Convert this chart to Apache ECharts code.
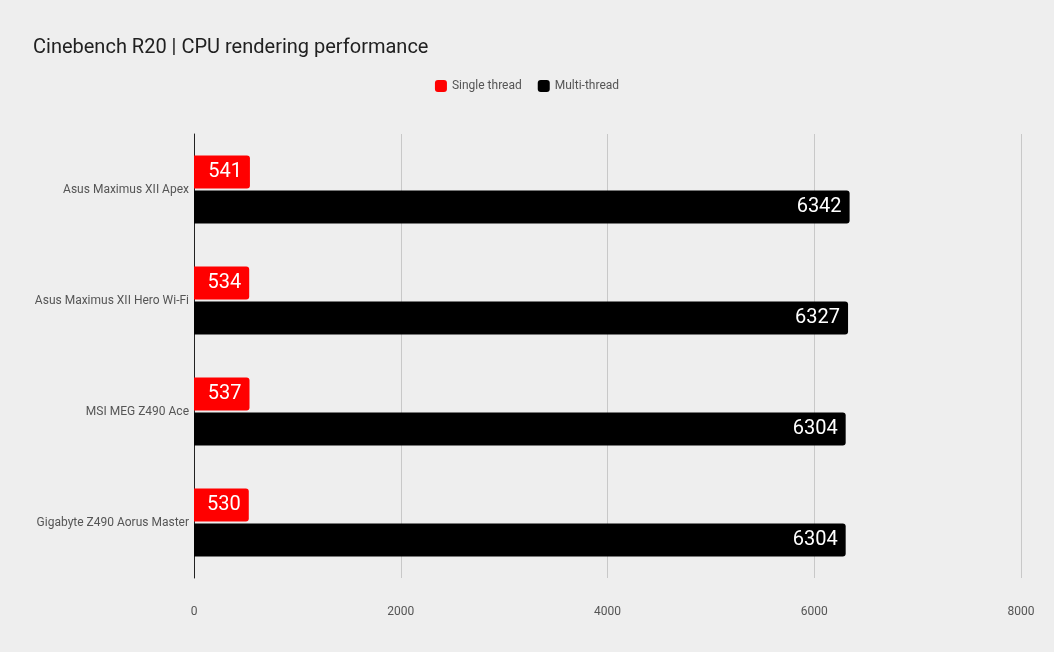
<!DOCTYPE html>
<html>
<head>
<meta charset="UTF-8">
<title>Cinebench R20</title>
<script src="https://cdn.jsdelivr.net/npm/echarts@6/dist/echarts.min.js"></script>
<style>
html,body{margin:0;padding:0;background:#eeeeee;}
#chart{width:1054px;height:652px;}
</style>
</head>
<body>
<div id="chart"></div>
<script>
var boards = ["Asus Maximus XII Apex", "Asus Maximus XII Hero Wi-Fi", "MSI MEG Z490 Ace", "Gigabyte Z490 Aorus Master"];
var singleThread = [541, 534, 537, 530];
var multiThread = [6342, 6327, 6304, 6304];

var chart = echarts.init(document.getElementById("chart"));
var labelStyle = {show: true, position: "insideRight", color: "#fff", fontSize: 20, fontFamily: "Roboto", distance: 8};
chart.setOption({
    backgroundColor: "#eeeeee",
    textStyle: {fontFamily: "Roboto"},
    title: {
        text: "Cinebench R20 | CPU rendering performance",
        left: 28, top: 33,
        textStyle: {fontSize: 20, fontWeight: "normal", color: "#212121"}
    },
    legend: {
        top: 75, left: "center",
        itemWidth: 12, itemHeight: 12, itemGap: 16,
        icon: "roundRect",
        textStyle: {fontSize: 12, color: "#555"},
        data: ["Single thread", "Multi-thread"]
    },
    grid: {left: 194, right: 33, top: 134, bottom: 74},
    xAxis: {
        type: "value", min: 0, max: 8000, interval: 2000,
        axisLine: {show: false}, axisTick: {show: false},
        axisLabel: {color: "#555", fontSize: 12, margin: 28, formatter: function (v) { return String(v); }},
        splitLine: {lineStyle: {color: "#c8c8c8"}}
    },
    yAxis: {
        type: "category", data: boards, inverse: true,
        axisLine: {lineStyle: {color: "#222"}}, axisTick: {show: false},
        axisLabel: {color: "#555", fontSize: 12, margin: 5}
    },
    series: [
        {name: "Single thread", type: "bar", data: singleThread, barWidth: 33, barGap: "6%",
         itemStyle: {color: "#ff0000", borderRadius: [0, 3, 3, 0]}, label: labelStyle},
        {name: "Multi-thread", type: "bar", data: multiThread, barWidth: 33,
         itemStyle: {color: "#000000", borderRadius: [0, 3, 3, 0]}, label: labelStyle}
    ]
});
</script>
</body>
</html>
